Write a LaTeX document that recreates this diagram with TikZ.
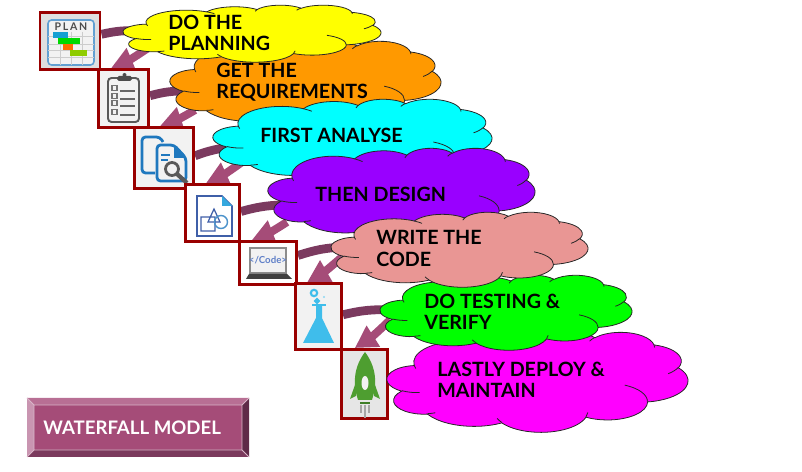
\documentclass[tikz,border=0pt]{standalone}
\usepackage{fontspec}
\setmainfont{Lato}
\usetikzlibrary{arrows.meta,backgrounds}

\definecolor{boxred}{HTML}{990000}
\definecolor{iconbg}{HTML}{F2F2F2}
\definecolor{bandcol}{HTML}{7B3A5F}
\definecolor{arrowcol}{HTML}{A54C78}
\definecolor{iconblue}{HTML}{1F78BE}
\definecolor{shapeblue}{HTML}{3F5FA8}
\definecolor{codeblue}{HTML}{6080C8}
\definecolor{flaskblue}{HTML}{3FBDEB}
\definecolor{rocketgreen}{HTML}{4E9E30}
\definecolor{plumtop}{HTML}{B86F94}
\definecolor{plumleft}{HTML}{C995B1}
\definecolor{plumright}{HTML}{5F2A48}
\definecolor{plumbottom}{HTML}{7B3A5D}
\definecolor{pinkcloud}{HTML}{E99694}
\definecolor{purplecloud}{HTML}{9900FF}
\definecolor{orangecloud}{HTML}{FF9900}
\definecolor{yellowcloud}{HTML}{FFFF00}
\definecolor{cyancloud}{HTML}{00FFFF}
\definecolor{greencloud}{HTML}{00FF00}
\definecolor{magentacloud}{HTML}{FF00FF}

\tikzset{
  iconbox/.style={draw=boxred, line width=1.7pt, fill=iconbg, inner sep=0pt},
  cloudline/.style={draw=black!85, line width=0.45pt},
  wflabel/.style={anchor=west, align=left, inner sep=0pt, font=\bfseries\fontsize{11.2}{12}\selectfont},
  bandline/.style={draw=bandcol, line width=5pt},
  flowarrow/.style={draw=arrowcol, line width=4.6pt, -{Triangle[length=12.5pt,width=13.5pt]}}
}

% cloud: x y width height colour (pixels of the picture)
\newcommand{\wfcloud}[5]{%
  \begin{scope}[shift={(#1,#2)},x={#3*0.02cm/43.2},y={-#4*0.02cm/43.2}]
    \filldraw[cloudline,fill=#5] (3.9,14.37)
      arc (-187.75:-59.63:6.753 and 9.19) arc (-152.02:-45.45:5.333 and 7.267)
      arc (-153.49:-37.31:4.365 and 5.945) arc (-139.72:-10.22:4.857 and 6.595)
      arc (-74.77:23.22:5.333 and 7.273) arc (-37.52:81.86:6.775 and 9.22)
      arc (0.46:121.98:5.785 and 7.867) arc (16.84:146.24:6.752 and 9.215)
      arc (58.98:150.18:7.72 and 10.543) arc (-276.69:-136.88:4.36 and 5.918)
      arc (-239.66:-95.89:4.345 and 5.945) -- cycle;
    \draw[cloudline]
      (4.693,26.177) arc (85.57:120.21:4.345 and 5.945)
      (6.928,34.899) arc (68.24:83.31:4.36 and 5.918)
      (16.478,39.09) arc (146.24:158.47:6.752 and 9.215)
      (28.827,34.751) arc (4.73:16.84:6.752 and 9.215)
      (34.129,22.954) arc (-64.02:0.46:5.785 and 7.867)
      (41.798,15.354) arc (23.22:49.65:5.333 and 7.273)
      (38.324,5.426) arc (-10.22:0.82:4.857 and 6.595)
      (29.078,3.952) arc (-156.29:-139.72:4.857 and 6.595)
      (22.141,4.72) arc (-167.72:-153.49:4.365 and 5.945)
      (14,5.192) arc (-59.63:-45.74:6.753 and 9.19)
      (4.127,15.789) arc (163.19:172.25:6.753 and 9.19);
  \end{scope}}

\begin{document}
\begin{tikzpicture}[x=0.02cm,y=-0.02cm]
  \useasboundingbox (0,0) rectangle (802,472);

  % Plan icon
  \node[iconbox, fill=iconbg!92!black, minimum width=60*0.02cm, minimum height=57*0.02cm] (planBox) at (70,41) {};
  \draw[iconblue!70!white, line width=0.9pt, rounded corners=2pt, fill=iconbg] (48,20) rectangle (94,65);
  \draw[black!20, line width=0.3pt] (48,36) -- (94,36) (48,44) -- (94,44) (48,50) -- (94,50) (48,57) -- (94,57)
    (60,32) -- (60,65) (71,32) -- (71,65) (82,32) -- (82,65);
  \fill[iconblue!70!cyancloud] (53,32) rectangle (68,38);
  \fill[greencloud!85!black] (58,38) rectangle (80,44);
  \fill[orangecloud!70!red] (63,44) rectangle (73,50);
  \fill[yellowcloud!70!green!80!black] (70,50) rectangle (87,56);
  \node[inner sep=0pt, text=black!70, font=\bfseries\fontsize{6}{6}\selectfont] (planText) at (71,27) {P\,L\,A\,N};

  % Clipboard icon
  \node[iconbox, minimum width=50*0.02cm, minimum height=58*0.02cm] (listBox) at (123.5,98.5) {};
  \draw[black!65, line width=1.1pt, rounded corners=2pt] (108,78) rectangle (139,122);
  \fill[black!70, rounded corners=1pt] (117,76) rectangle (132,81);
  \fill[black!70] (124.5,75) circle (2);
  \foreach \y in {88,96,103,112} {
    \draw[black!55, line width=0.6pt] (112,\y-2.5) rectangle (117,\y+2.5);
    \draw[black!60, line width=0.8pt] (120,\y+3) -- (135,\y+3);
  }

  % Documents icon
  \node[iconbox, minimum width=59*0.02cm, minimum height=61*0.02cm] (docsBox) at (164,158) {};
  \draw[iconblue, line width=1.6pt, rounded corners=2pt] (155,173) -- (142,173) -- (142,137) -- (160,137) -- (163,142);
  \draw[iconblue, line width=1.6pt, fill=iconbg, rounded corners=2pt] (157,145) -- (174,145) -- (186,158) -- (186,181) -- (157,181) -- cycle;
  \fill[iconblue] (174,145) -- (186,158) -- (174,158) -- cycle;
  \draw[iconblue, line width=0.8pt] (161,155) -- (170,155) (161,160) -- (168,160);
  \draw[black!65, line width=1.6pt, fill=iconbg] (172,169) circle (6.5);
  \draw[black!65, line width=2.4pt] (177,174) -- (187,183);

  % Design icon
  \node[iconbox, fill=white, minimum width=54*0.02cm, minimum height=57*0.02cm] (designBox) at (212.5,213) {};
  \draw[shapeblue, line width=0.9pt] (197,196) -- (222,196) -- (232,206) -- (232,236) -- (197,236) -- cycle;
  \fill[flaskblue!70!iconblue] (222,196) -- (232,206) -- (222,206) -- cycle;
  \draw[shapeblue, line width=0.7pt] (201,217) rectangle (215,231) (214,209) -- (208,222) -- (220,222) -- cycle;
  \draw[iconblue!80!white, line width=0.8pt] (221,222) circle (6.5);

  % Code icon
  \node[iconbox, fill=white, minimum width=57*0.02cm, minimum height=43*0.02cm] (codeBox) at (268,263) {};
  \draw[black!45, line width=1pt, fill=iconbg] (250,248) rectangle (286,273);
  \fill[black!75] (249,274) -- (287,274) -- (292,279) -- (246,279) -- cycle;
  \node[inner sep=0pt, text=codeblue, font=\bfseries\fontsize{5.5}{6}\selectfont] (codeText) at (268,260) {</Code>};

  % Flask icon
  \node[iconbox, minimum width=46*0.02cm, minimum height=66*0.02cm] (flaskBox) at (318.5,316.5) {};
  \fill[flaskblue] (316,305) -- (322,305) -- (322,318) -- (334,343) -- (303,343) -- (316,318) -- cycle;
  \draw[flaskblue, line width=0.8pt] (312,305) -- (326,305);
  \draw[flaskblue, line width=1.2pt] (314,293) circle (3.2) (317,301) circle (1.8);
  \fill[flaskblue!60!white] (324,297) circle (1.2);

  % Rocket icon
  \node[iconbox, fill=iconbg!95!black, minimum width=46*0.02cm, minimum height=69*0.02cm] (rocketBox) at (364.5,384) {};
  \fill[rocketgreen] (365,352) .. controls (377,368) and (377,385) .. (372,400) -- (358,400)
    .. controls (353,385) and (353,368) .. (365,352) -- cycle;
  \fill[rocketgreen] (356,382) -- (350,399) -- (356,396) -- cycle (374,382) -- (380,399) -- (374,396) -- cycle;
  \fill[iconbg] (365,383) ellipse (3.5 and 7);
  \fill[rocketgreen!80!black] (360,402) rectangle (370,404);
  \draw[black!35, line width=0.8pt] (365,405) -- (365,418) (361,405) -- (361,413) (369,405) -- (369,413);

  % Bands and arrows stay behind boxes and clouds
  \coordinate (planOut) at (140,31);
  \coordinate (listOut) at (188,91);
  \coordinate (docsOut) at (235,147);
  \coordinate (designOut) at (290,205);
  \coordinate (codeOut) at (345,247);
  \coordinate (flaskOut) at (392,310);
  \coordinate (planDown) at (148,48);
  \coordinate (listDown) at (195,110);
  \coordinate (docsDown) at (242,162);
  \coordinate (designDown) at (287,222);
  \coordinate (codeDown) at (342,257);
  \coordinate (flaskDown) at (390,320);
  \begin{pgfonlayer}{background}
    \draw[bandline] (planBox.12) to[bend left=8] (planOut);
    \draw[bandline] (listBox.6) to[bend left=8] (listOut);
    \draw[bandline] (docsBox.4) to[bend left=8] (docsOut);
    \draw[bandline] (designBox.3) to[bend left=8] (designOut);
    \draw[bandline] (codeBox.14) to[bend left=8] (codeOut);
    \draw[bandline] (flaskBox.4) to[bend left=8] (flaskOut);
    \draw[flowarrow] (planDown) to[bend left=6] (listBox.112);
    \draw[flowarrow] (listDown) to[bend left=6] (docsBox.97);
    \draw[flowarrow] (docsDown) to[bend left=6] (designBox.102);
    \draw[flowarrow] (designDown) to[bend left=6] (codeBox.125);
    \draw[flowarrow] (codeDown) to[bend left=6] (flaskBox.108);
    \draw[flowarrow] (flaskDown) to[bend left=6] (rocketBox.105);
  \end{pgfonlayer}

  % Clouds, back to front
  \wfcloud{387}{332}{301}{100}{magentacloud}
  \wfcloud{380}{275}{252}{75}{greencloud}
  \wfcloud{170}{41}{271}{85}{orangecloud}
  \wfcloud{123}{5}{258}{57}{yellowcloud}
  \wfcloud{213}{99}{279}{81}{cyancloud}
  \wfcloud{268}{148}{267}{90}{purplecloud}
  \wfcloud{331}{212}{257}{75}{pinkcloud}

  % Labels
  \node[wflabel] (planLabel) at (168,32.5) {DO THE\\PLANNING};
  \node[wflabel] (listLabel) at (216,82.5) {GET THE\\REQUIREMENTS};
  \node[wflabel] (docsLabel) at (260,135.5) {FIRST ANALYSE};
  \node[wflabel] (designLabel) at (315,194) {THEN DESIGN};
  \node[wflabel] (codeLabel) at (376,248.5) {WRITE THE\\CODE};
  \node[wflabel] (flaskLabel) at (424,311.5) {DO TESTING \&\\VERIFY};
  \node[wflabel] (rocketLabel) at (437,380) {LASTLY DEPLOY \&\\MAINTAIN};

  % Title button
  \fill[arrowcol] (27,398) rectangle (249,457);
  \fill[plumtop] (27,398) -- (249,398) -- (242,405) -- (34,405) -- cycle;
  \fill[plumleft] (27,398) -- (34,405) -- (34,450) -- (27,457) -- cycle;
  \fill[plumright] (249,398) -- (242,405) -- (242,450) -- (249,457) -- cycle;
  \fill[plumbottom] (27,457) -- (34,450) -- (242,450) -- (249,457) -- cycle;
  \draw[plumleft!70!white, line width=0.5pt] (27,398) -- (34,405) -- (242,405) -- (249,398) (34,405) -- (34,450) -- (27,457) (34,450) -- (242,450) -- (249,457) (242,405) -- (242,450);
  \node[wflabel, text=white, font=\bfseries\fontsize{10.6}{12}\selectfont] (titleLabel) at (43,427.5) {WATERFALL MODEL};
\end{tikzpicture}
\end{document}
